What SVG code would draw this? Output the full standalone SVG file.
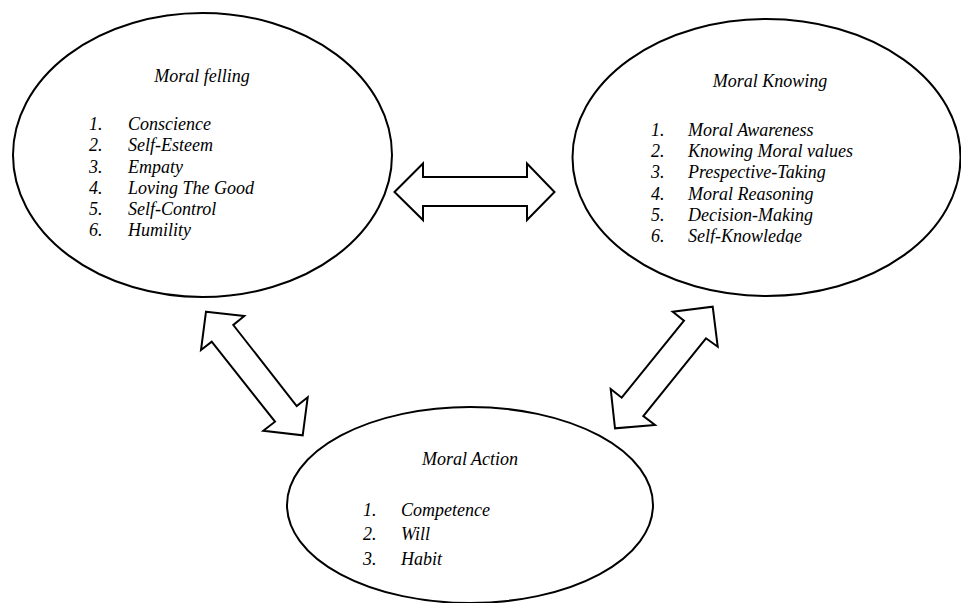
<svg xmlns="http://www.w3.org/2000/svg" width="961" height="603" viewBox="0 0 961 603">
<style>
.node ellipse{fill:#fff;stroke:#000;stroke-width:2}
.arrow{fill:#fff;stroke:#000;stroke-width:2;stroke-linejoin:miter}
text{font-family:"Liberation Serif","Times New Roman",serif;font-style:italic;font-size:18px;fill:#000}
.t{text-anchor:middle}
</style>
<defs>
<clipPath id="cut"><rect x="0" y="0" width="961" height="243.5"/></clipPath>
</defs>
<rect width="961" height="603" fill="#fff"/>
<g id="moral-felling" class="node">
<ellipse cx="202.5" cy="155" rx="189.5" ry="142"/>
<text class="t" x="202" y="82">Moral felling</text>
<text x="89" y="130">1.</text><text x="128" y="130">Conscience</text>
<text x="89" y="151">2.</text><text x="128" y="151">Self-Esteem</text>
<text x="89" y="172.5">3.</text><text x="128" y="172.5">Empaty</text>
<text x="89" y="194">4.</text><text x="128" y="194">Loving The Good</text>
<text x="89" y="215">5.</text><text x="128" y="215">Self-Control</text>
<text x="89" y="236">6.</text><text x="128" y="236">Humility</text>
</g>
<g id="moral-knowing" class="node">
<ellipse cx="766.5" cy="157.5" rx="194" ry="138.5"/>
<text class="t" x="770" y="87">Moral Knowing</text>
<text x="651" y="135.7">1.</text><text x="688" y="135.7">Moral Awareness</text>
<text x="651" y="157">2.</text><text x="688" y="157">Knowing Moral values</text>
<text x="651" y="178.3">3.</text><text x="688" y="178.3">Prespective-Taking</text>
<text x="651" y="199.6">4.</text><text x="688" y="199.6">Moral Reasoning</text>
<text x="651" y="220.9">5.</text><text x="688" y="220.9">Decision-Making</text>
<g clip-path="url(#cut)"><text x="651" y="242.2">6.</text><text x="688" y="242.2">Self-Knowledge</text></g>
</g>
<g id="moral-action" class="node">
<ellipse cx="470" cy="505" rx="183" ry="98"/>
<text class="t" x="470" y="465">Moral Action</text>
<text x="363" y="515.5">1.</text><text x="401" y="515.5">Competence</text>
<text x="363" y="540">2.</text><text x="401" y="540">Will</text>
<text x="363" y="565">3.</text><text x="401" y="565">Habit</text>
</g>
<g id="connectors">
<polygon class="arrow" points="394.5,192 423,163.5 423,177 527,177 527,163.5 554.5,192 527,220 527,206 423,206 423,220"/>
<polygon class="arrow" points="206,311.7 244.3,316 233.3,325 296.7,406 307.7,397.3 302.7,435.3 263.3,430.7 275,421.7 211.7,341.7 201,350"/>
<polygon class="arrow" points="712.7,306.7 717.7,346.7 706,338.3 643.3,416 655,425 615,428.3 610.7,389 621.7,397.7 684,320.7 672.7,311.7"/>
</g>
</svg>
